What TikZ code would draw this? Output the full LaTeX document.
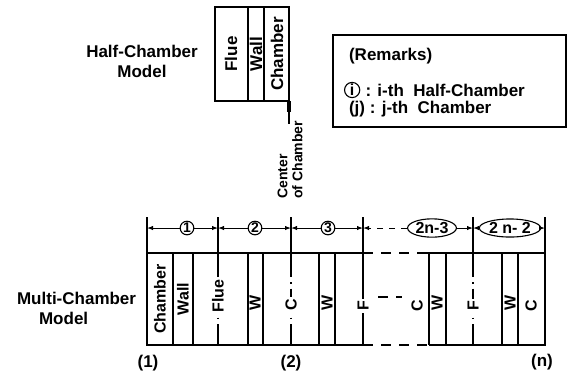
\documentclass[tikz,border=0pt]{standalone}
\usepackage{fontspec}
\setmainfont{Liberation Sans}
\usetikzlibrary{shapes.geometric,arrows.meta}
\begin{document}
\begin{tikzpicture}[x=0.5pt, y=-0.5pt, every node/.style={font=\bfseries\fontsize{8.5}{10}\selectfont},
  lbl/.style={rotate=90, inner sep=1pt},
  sm/.style={font=\bfseries\fontsize{8}{9}\selectfont},
  wall/.style={line width=0.6pt},
  cl/.style={line width=0.6pt, dash pattern=on 12pt off 2.5pt on 0.8pt off 2.5pt},
  dim/.style={line width=0.5pt, -{Latex[length=3pt,width=2.2pt]}},
  num/.style={draw, circle, inner sep=0pt, minimum size=6.8pt, line width=0.55pt, font=\bfseries\fontsize{7}{7}\selectfont},
  oval/.style={draw, ellipse, inner sep=0.4pt, line width=0.55pt, font=\bfseries\fontsize{8}{9}\selectfont}]
\useasboundingbox (0,0) rectangle (568,372);

% half-chamber model
\node[align=center] (hlab) at (142,61) {Half-Chamber\\Model};
\draw[line width=0.9pt] (215,7) rectangle (289,101);
\draw[wall] (248,7) -- (248,101) (264,7) -- (264,101);
\node[lbl] (hf) at (231,54) {Flue};
\node[lbl] (hw) at (256,54) {Wall};
\node[lbl] (hc) at (277,54) {Chamber};
\coordinate (cc) at (289,101);
\draw[line width=1.6pt] (cc) -- ++(0,11);
\draw[wall] (cc) -- ++(0,23);
\node[lbl, align=left, anchor=west, font=\bfseries\fontsize{7}{7.5}\selectfont] (ccl) at (290,201) {Center\\of Chamber};

% remarks
\draw[line width=0.8pt] (333,35) rectangle (566,127);
\node[anchor=west] (rem) at (342,56) {(Remarks)};
\node[num, anchor=west, minimum size=7.6pt, font=\bfseries\fontsize{8}{8}\selectfont] (ri) at (344,90) {i};
\node[anchor=west, inner sep=1pt] (rit) at (ri.east) {\,: i-th\ \ Half-Chamber};
\node[anchor=west] (rj) at (342,109) {(j) : j-th\ \ Chamber};

% multi-chamber model
\node[align=left, anchor=west] (mlab) at (10,308) {Multi-Chamber\\\hspace*{11pt}Model};
\draw[line width=0.9pt] (363,253) -- (147,253) -- (147,345) -- (363,345);
\draw[line width=0.9pt] (417,253) -- (545,253) -- (545,345) -- (429,345);
\draw[line width=0.9pt, dash pattern=on 5pt off 4pt] (363,253) -- (417,253) (363,345) -- (429,345);
\draw[wall, dash pattern=on 5pt off 4pt] (378,297) -- (402,297);
\foreach \x in {173,193,248,263,319,335,429,446,502,518} {\draw[wall] (\x,253) -- (\x,345);}
\foreach \x in {218,291,473} {\draw[cl] (\x,253) -- (\x,345);}
\draw[wall] (363,253) -- (363,345);

\node[lbl, sm] (m1) at (160,299) {Chamber};
\node[lbl, sm] (m2) at (183,299) {Wall};
\node[lbl, sm, fill=white] (m3) at (218,296) {Flue};
\node[lbl, sm] (m4) at (255,303) {W};
\node[lbl, sm, fill=white] (m5) at (291,305) {C};
\node[lbl, sm] (m6) at (327,303) {W};
\node[lbl, sm, fill=white] (m7) at (363,306) {F};
\node[lbl, sm] (m8) at (417,306) {C};
\node[lbl, sm] (m9) at (437,303) {W};
\node[lbl, sm, fill=white] (m10) at (473,306) {F};
\node[lbl, sm] (m11) at (510,303) {W};
\node[lbl, sm] (m12) at (531,306) {C};

% dimension line
\foreach \x [count=\i from 0] in {147,218,291,363,473,545} {
  \coordinate (t\i) at (\x,228);
  \draw[wall] (\x,217) -- (\x,253);
}
\node[num] (c1) at (187,228) {1};
\node[num] (c2) at (255,228) {2};
\node[num] (c3) at (328,228) {3};
\node[oval] (e1) at (432,228) {2n-3};
\node[oval] (e2) at (510,228) {2 n- 2};
\draw[dim] (c1) -- (t0);
\draw[dim] (c1) -- (t1);
\draw[dim] (c2) -- (t1);
\draw[dim] (c2) -- (t2);
\draw[dim] (c3) -- (t2);
\draw[dim] (c3) -- (t3);
\draw[dim, dash pattern=on 3pt off 3pt] (e1) -- (t3);
\draw[dim] (e1) -- (t4);
\draw[dim] (e2) -- (t4);
\draw[dim] (e2) -- (t5);

\node (b1) at (148,363) {(1)};
\node (b2) at (291,363) {(2)};
\node (b3) at (542,362) {(n)};
\end{tikzpicture}
\end{document}
